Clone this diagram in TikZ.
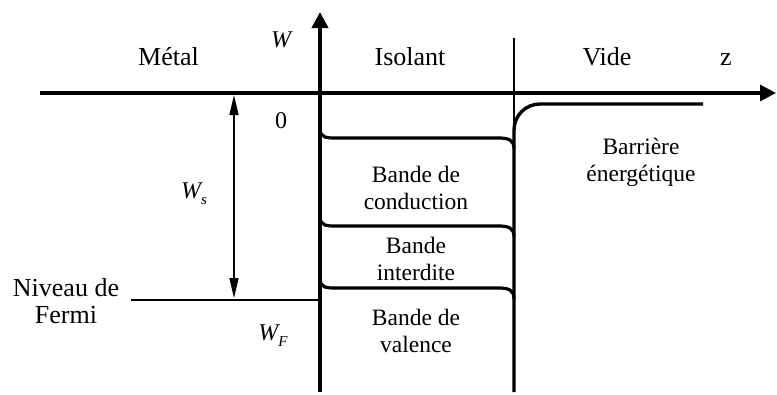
\documentclass[tikz,border=0pt]{standalone}
\usepackage{fontspec}
\setmainfont{Liberation Serif}
\usetikzlibrary{arrows.meta}
\tikzset{
  big/.style={font=\fontsize{26}{30}\selectfont, inner sep=0pt, anchor=base},
  lbl/.style={font=\fontsize{23.5}{27}\selectfont, align=center, inner sep=0pt, anchor=base},
  sym/.style={font=\fontsize{24}{28}\selectfont\itshape, inner sep=0pt, anchor=base},
  axisline/.style={line width=3.2pt, -{Triangle[length=16pt,width=16pt]}},
  bandline/.style={line width=3.2pt},
  thinline/.style={line width=1.3pt},
  gap/.style={line width=1.4pt, {Triangle[length=20pt,width=9pt]}-{Triangle[length=20pt,width=9pt]}}
}
% subscript set in small italic text
\newcommand{\lowidx}[1]{\raisebox{-0.28em}{\fontsize{15}{15}\selectfont\itshape #1}}
\newcommand{\bandedge}[1]{%
  \draw[bandline] (320,#1-10) .. controls (320,#1) and (326,#1) .. (337,#1)
    -- (498,#1) .. controls (509,#1) and (514,#1+2) .. (514,#1+11);}
\begin{document}
\begin{tikzpicture}[x=1pt,y=-1pt]
\useasboundingbox (0,0) rectangle (777,394);

% axes
\coordinate (zstart) at (40,93);
\coordinate (zend) at (776,93);
\coordinate (wbottom) at (320,392);
\coordinate (wtop) at (320,12);
\draw[axisline] (zstart) -- (zend);
\draw[line width=4.5pt, -{Triangle[length=16pt,width=16pt]}] (wbottom) -- (wtop);

% insulator / vacuum boundary and the energy barrier
\coordinate (ivtop) at (514,38);
\coordinate (ivbar) at (514,125);
\draw[thinline] (ivtop) -- (ivbar);
\draw[line width=3.4pt, rounded corners=26pt] (514,392) -- (514,104) -- (703,104);

% band edges inside the insulator
\bandedge{138}
\bandedge{226}
\bandedge{288}

% Fermi level of the metal
\coordinate (fermiL) at (131,300);
\coordinate (fermiR) at (318,300);
\draw[line width=2.2pt] (fermiL) -- (fermiR);

% work function W_s
\coordinate (wsTop) at (234,95);
\coordinate (wsBot) at (234,298);
\draw[gap] (wsTop) -- (wsBot);

% region labels
\node[big] (metal) at (168.5,65) {Métal};
\node[big] (isol) at (410,65) {Isolant};
\node[big] (vide) at (607,65) {Vide};
\node[big] (zlab) at (726,65) {z};
\node[sym] (wlab) at (281,47) {W};
\node[sym, font=\fontsize{24}{28}\selectfont] (zero) at (281,128) {0};
\node[sym] (ws) at (194,198) {W\lowidx{s}};
\node[sym] (wf) at (273,340) {W\lowidx{F}};

% multi-line labels are placed by the baseline of their last line
\node[lbl] (cond) at (416,209) {Bande de\\conduction};
\node[lbl] (inter) at (416,280) {Bande\\interdite};
\node[lbl] (val) at (416,352) {Bande de\\valence};
\node[lbl] (barr) at (641,181) {Barrière\\énergétique};
\node[big, align=center, font=\fontsize{26}{27}\selectfont] (fermi) at (66,323) {Niveau de\\Fermi};
\end{tikzpicture}
\end{document}
